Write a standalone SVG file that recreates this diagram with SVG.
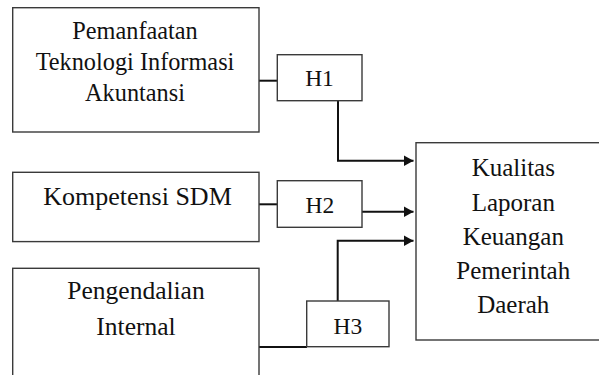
<svg xmlns="http://www.w3.org/2000/svg" width="599" height="375" viewBox="0 0 599 375">
<style>
.box{fill:#fff;stroke:#3a3a3a;stroke-width:1.4}
.t{fill:#111;text-anchor:middle}
.c{fill:none;stroke:#111;stroke-width:2}
</style>
<defs>
<marker id="ah" markerWidth="10" markerHeight="11" refX="10" refY="5.5" orient="auto" markerUnits="userSpaceOnUse">
<path d="M0,0 L10,5.5 L0,11 Z" fill="#111"/>
</marker>
</defs>
<rect width="599" height="375" fill="#fff"/>
<g id="connectors">
<path class="c" d="M259,80.7 H277.5"/>
<path class="c" d="M338,100.7 V160.7 H413.5" marker-end="url(#ah)"/>
<path class="c" d="M259,204.3 H277.5"/>
<path class="c" d="M362,211.7 H413.5" marker-end="url(#ah)"/>
<path class="c" d="M259,347 H307"/>
<path class="c" d="M337.7,301 V240.7 H413.5" marker-end="url(#ah)"/>
</g>
<g font-family="Liberation Serif, DejaVu Serif, Times New Roman, serif">
<g id="n-pemanfaatan">
<rect class="box" x="12.7" y="7.7" width="246.3" height="124.3"/>
<text class="t" font-size="24.3"><tspan x="135" y="39.3">Pemanfaatan</tspan><tspan x="135" y="69.8">Teknologi Informasi</tspan><tspan x="135" y="100.5">Akuntansi</tspan></text>
</g>
<g id="n-h1">
<rect class="box" x="277.3" y="54.7" width="84.7" height="46"/>
<text class="t" font-size="23.5" x="319.5" y="86">H1</text>
</g>
<g id="n-kompetensi">
<rect class="box" x="12.7" y="172.3" width="246.3" height="69.3"/>
<text class="t" font-size="26" x="137.5" y="205">Kompetensi SDM</text>
</g>
<g id="n-h2">
<rect class="box" x="277.3" y="180.7" width="84.7" height="46.6"/>
<text class="t" font-size="23.5" x="319.8" y="213.3">H2</text>
</g>
<g id="n-pengendalian">
<rect class="box" x="12.7" y="268.3" width="246.3" height="120"/>
<text class="t" font-size="25.5"><tspan x="136" y="299.3">Pengendalian</tspan><tspan x="136" y="335">Internal</tspan></text>
</g>
<g id="n-h3">
<rect class="box" x="306.7" y="301" width="82.3" height="45.7"/>
<text class="t" font-size="23.5" x="347.8" y="334.3">H3</text>
</g>
<g id="n-kualitas">
<rect class="box" x="416" y="142.7" width="200" height="197.3"/>
<text class="t" font-size="25"><tspan x="513.3" y="176">Kualitas</tspan><tspan x="513.3" y="210.5">Laporan</tspan><tspan x="513.3" y="245">Keuangan</tspan><tspan x="513.3" y="278.5">Pemerintah</tspan><tspan x="513.3" y="313.3">Daerah</tspan></text>
</g>
</g>
</svg>
